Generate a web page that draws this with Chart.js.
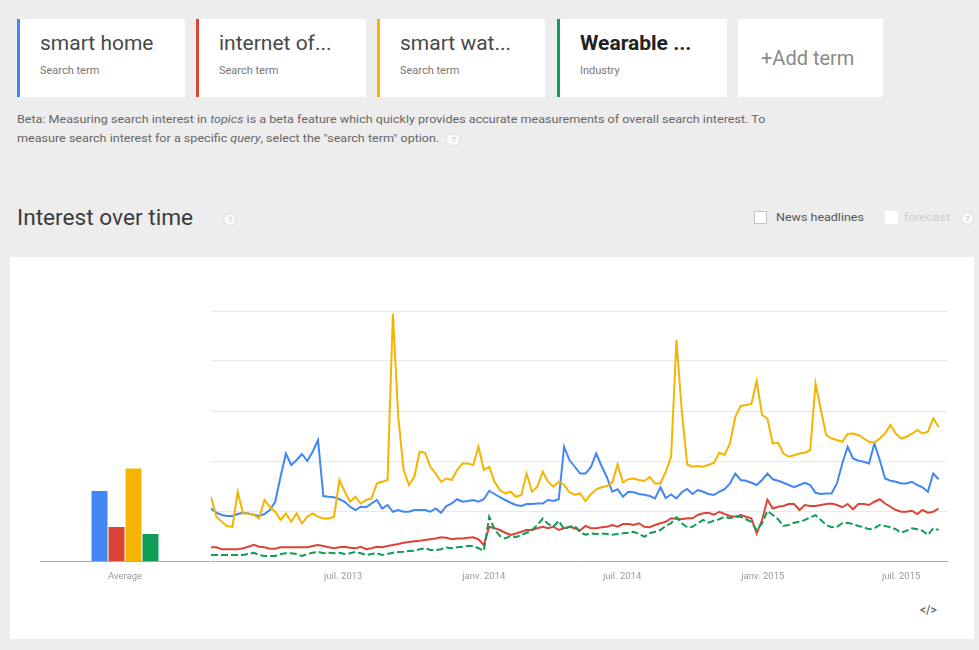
<!DOCTYPE html>
<html lang="fr">
<head>
  <meta charset="UTF-8">
  <title>Interest over time</title>
  <script src="https://cdn.jsdelivr.net/npm/chart.js"></script>
  <style>
    body {
      margin: 0;
      width: 979px;
      height: 650px;
      overflow: hidden;
      background-color: #ededed;
      font-family: Roboto, Arial, sans-serif;
      position: relative;
    }
    .card {
      position: absolute;
      top: 19px;
      height: 78px;
      background: #fff;
      box-sizing: border-box;
      border-left: 3px solid transparent;
    }
    .card .name {
      position: absolute;
      left: 20px;
      top: 12px;
      font-size: 21px;
      line-height: 24px;
      color: #484848;
      white-space: nowrap;
    }
    .card .kind {
      position: absolute;
      left: 20px;
      top: 45px;
      font-size: 11px;
      color: #777;
    }
    .beta {
      position: absolute;
      left: 17px;
      top: 110px;
      font-size: 10.4px;
      line-height: 19px;
      color: #666;
      white-space: nowrap;
      transform: scaleX(1.21);
      transform-origin: left top;
    }
    .help {
      display: inline-block;
      width: 11px;
      height: 11px;
      border-radius: 50%;
      border: 1px solid #ddd;
      background: #fafafa;
      color: #bbb;
      font-size: 8px;
      line-height: 11px;
      text-align: center;
      vertical-align: middle;
    }
    .title {
      position: absolute;
      left: 17px;
      top: 205px;
      font-size: 22px;
      color: #3c3c3c;
      white-space: nowrap;
      transform: scaleX(1.03);
      transform-origin: left top;
    }
    .check {
      position: absolute;
      top: 211px;
      width: 13px;
      height: 13px;
      background: #fff;
      box-sizing: border-box;
    }
    .opt {
      position: absolute;
      top: 210px;
      font-size: 10px;
      line-height: 16px;
      white-space: nowrap;
      transform: scaleX(1.25);
      transform-origin: left top;
    }
    .panel {
      position: absolute;
      left: 10px;
      top: 257px;
      width: 964px;
      height: 382px;
      background: #fff;
    }
    canvas { position: absolute; }
  </style>
</head>
<body>
  <div class="card" style="left:17px;width:168px;border-left-color:#4285f4">
    <div class="name">smart home</div><div class="kind">Search term</div>
  </div>
  <div class="card" style="left:196px;width:170px;border-left-color:#db4437">
    <div class="name">internet of...</div><div class="kind">Search term</div>
  </div>
  <div class="card" style="left:377px;width:168px;border-left-color:#f4b400">
    <div class="name">smart wat...</div><div class="kind">Search term</div>
  </div>
  <div class="card" style="left:557px;width:170px;border-left-color:#0f9d58">
    <div class="name" style="font-weight:bold;color:#222">Wearable ...</div><div class="kind">Industry</div>
  </div>
  <div class="card" style="left:738px;width:145px;border-left:none">
    <div class="name" style="left:23px;top:27px;font-size:20px;color:#8a8a8a">+Add term</div>
  </div>

  <div class="beta">
    Beta: Measuring search interest in <i>topics</i> is a beta feature which quickly provides accurate measurements of overall search interest. To<br>
    measure search interest for a specific <i>query</i>, select the "search term" option. &nbsp;<span class="help">?</span>
  </div>

  <div class="title">Interest over time <span class="help" style="margin-left:24px">?</span></div>
  <div class="check" style="left:754px;border:1px solid #c4c4c4"></div>
  <div class="opt" style="left:776px;color:#555">News headlines</div>
  <div class="check" style="left:885px"></div>
  <div class="opt" style="left:904px;color:#ccc">forecast</div>
  <div class="opt" style="left:961px;transform:none"><span class="help">?</span></div>

  <div class="panel"></div>
  <canvas id="avgChart" width="170" height="286" style="left:40px;top:300px"></canvas>
  <canvas id="trendChart" width="760" height="286" style="left:200px;top:300px"></canvas>
  <div style="position:absolute;left:920px;top:603px;font-size:12px;font-weight:bold;color:#777">&lt;/&gt;</div>

  <script>
    // weekly Google Trends data, first week starting 6 Jan 2013
    const firstWeek = '2013-01-06';
    const seriesNames = ['smart home', 'internet of things', 'smart watch', 'Wearable technology'];
    const seriesColors = ['#4285f4', '#db4437', '#f4b400', '#0f9d58'];
    const averages = [28, 13.6, 37, 10.8];

    const smartHome = [
      21, 19.3, 18.4, 18, 18, 18.8, 19.3, 19, 18.5, 18, 18.8, 20.4, 23.7, 33.7, 43, 38.4, 40.4, 42.8, 40, 43.7,
      48.4, 26, 25.7, 25.5, 24.7, 23.7, 21.7, 20.4, 21.7, 21.5, 23, 24.4, 21, 22.4, 19.7, 20.4, 19.7, 19.7, 20.4, 20.4,
      20.4, 19.7, 21, 19.3, 22, 23, 24.7, 23.7, 24, 24.4, 23.7, 24.7, 28.1, 26.8, 25.5, 24.4, 23.3, 22.4, 22, 22.8,
      22.8, 23, 23, 24.4, 24, 24.7, 45.7, 40.4, 37.7, 35, 35, 37.5, 43, 38, 33.5, 27.7, 28.7, 25.7, 27.7, 27.5,
      26.8, 26.5, 26, 25, 29.5, 25.2, 26.6, 25, 27.5, 28.8, 26.8, 28.4, 27.7, 26.8, 26.4, 27.7, 28.7, 31, 35, 32.4,
      32.1, 31.3, 30.4, 32.4, 35, 32.7, 32.1, 31.3, 30.4, 29.5, 30.4, 31.3, 30.4, 27.3, 26.8, 27, 27, 31, 39, 45.7,
      41, 40.1, 39.7, 39, 47, 40.4, 33, 32.1, 31.7, 31, 31, 31.7, 30.4, 29.5, 27.7, 35, 32.7
    ];
    const internetOfThings = [
      5.5, 5.5, 4.7, 4.7, 4.7, 4.7, 5.1, 5.7, 6.5, 5.7, 5.5, 4.9, 4.9, 5.5, 5.5, 5.5, 5.5, 5.5, 5.5, 6,
      6.4, 6, 5.5, 5.1, 5.5, 5.7, 5.3, 5.1, 5.7, 4.7, 5.1, 5.7, 5.5, 6, 6.4, 6.8, 7.3, 7.6, 7.9, 8.1,
      8.4, 8.7, 9, 9.5, 9.3, 8.7, 9, 9, 9.3, 9.5, 8.7, 6.4, 13.7, 13.1, 12.4, 11.3, 10.4, 11, 11.7, 12.4,
      12.4, 13.1, 13.7, 13.1, 13.7, 12.4, 13.1, 13.7, 13.1, 12.3, 14, 13.1, 13.1, 13.5, 13.7, 14.4, 13.7, 14.8, 14.8, 14.4,
      15.1, 13.7, 13.5, 14.4, 15.1, 15.7, 17.1, 16.9, 16.7, 17.1, 17.1, 18.4, 19.1, 19.3, 18.5, 19.7, 18.8, 18, 17.7, 18.4,
      17.7, 17.1, 11, 16.4, 24.5, 21, 21.7, 22, 22.8, 22.8, 20.4, 22.4, 22, 22, 22.4, 22.8, 23, 22.4, 21.5, 22.8,
      20.7, 22.8, 22.8, 22.4, 23.7, 24.7, 23, 21.7, 20.4, 19.7, 19.7, 20.1, 18.8, 20.4, 19.3, 19.7, 21
    ];
    const smartWatch = [
      25.7, 17.7, 15.7, 14, 13.7, 27.7, 19, 19, 18.4, 17, 24.4, 21.7, 19.7, 16.4, 19, 15.7, 19, 15, 17.7, 19,
      17.7, 17, 17, 17.7, 32.4, 27.7, 23.7, 25.7, 23, 24.4, 25, 31, 31.7, 32.4, 99, 57.7, 36.4, 30.4, 33.7, 43.7,
      43.3, 37.7, 35, 31.7, 33, 32.4, 36.4, 39, 39, 38.4, 45.7, 36.4, 37.7, 31.7, 28.4, 27, 27.7, 25.7, 26.4, 35,
      27.7, 29.7, 35.7, 31.7, 29.7, 31.7, 30.4, 27.5, 26.5, 27, 24, 26.7, 28.7, 29.5, 30, 31.4, 38.7, 31.4, 32.7, 33,
      32.4, 32, 33.6, 31, 31, 35.7, 41.7, 88.4, 60, 38.7, 37.7, 38, 37.7, 38.4, 39.3, 43.3, 42.4, 47, 57.7, 62,
      62.4, 62.8, 72, 58.4, 57, 47, 47.3, 43, 41.7, 42.3, 43, 43.3, 44.4, 71, 60.4, 50.4, 49, 48.4, 47.7, 50.8,
      51, 50.4, 49, 47.7, 47.3, 49, 51, 54.4, 51, 49, 49.7, 50.8, 52.4, 51, 51.7, 57, 53.7
    ];
    const wearableTech = [
      2.4, 2.4, 2.4, 2.4, 2.4, 2.4, 2.4, 2.8, 3.3, 2.4, 2, 2, 2, 2.8, 3.1, 3.1, 2.8, 2, 2.8, 3.3,
      3.7, 3.1, 3.3, 3.1, 3.3, 2.8, 3.1, 3.6, 3.1, 2.4, 2.8, 3.1, 2.4, 2.8, 3.3, 3.6, 3.7, 4, 4.1, 4.7,
      5.1, 4.4, 4.4, 4.7, 5.4, 5.1, 5.5, 5.7, 6, 6, 5.1, 4.1, 17.7, 12.7, 10, 9, 10, 9.5, 10.4, 11.3,
      12.4, 14.4, 17, 14.8, 13.7, 16.1, 12.7, 13.7, 14, 11.5, 10.5, 11, 10.8, 11, 10.8, 10.5, 10.8, 11.1, 11.3, 11.7,
      10.8, 9.7, 11.1, 11.7, 12.4, 14, 15.1, 17.5, 15.1, 13.5, 13.7, 15.1, 16.4, 15.3, 16.1, 16.7, 17.7, 17.1, 17.7, 17.7,
      16.7, 15.7, 12.4, 15, 20, 18.4, 16.7, 14, 14.4, 15.3, 15.7, 16.4, 17.5, 18.3, 16.4, 14.4, 13.5, 13.7, 15.1, 15.3,
      14.8, 14, 13.5, 12.7, 13.1, 14.4, 14, 13.5, 12.7, 11.3, 12.1, 13.1, 12.7, 12.1, 10.4, 13.1, 12.4
    ];
    const seriesValues = [smartHome, internetOfThings, smartWatch, wearableTech];

    const tickDates = ['2013-07-01', '2014-01-01', '2014-07-01', '2015-01-01', '2015-07-01'];
    const tickLabels = ['juil. 2013', 'janv. 2014', 'juil. 2014', 'janv. 2015', 'juil. 2015'];

    const DAY = 86400000;
    const start = Date.parse(firstWeek + 'T00:00:00Z');
    const dayOf = s => Math.round((Date.parse(s + 'T00:00:00Z') - start) / DAY);
    // weeks are plotted at mid-week
    const weekX = smartHome.map((v, i) => i * 7 + 3);
    const tickX = tickDates.map(dayOf);

    const axisFont = { family: 'Roboto, Arial, sans-serif', size: 9.5 };
    const fixHeight = s => { s.height = 25; };

    // Average bars
    new Chart(document.getElementById('avgChart'), {
      type: 'bar',
      data: {
        labels: ['Average'],
        datasets: seriesNames.map((name, k) => ({
          label: name,
          data: [averages[k]],
          backgroundColor: seriesColors[k],
          categoryPercentage: 0.4,
          barPercentage: 0.94
        }))
      },
      options: {
        responsive: false,
        animation: false,
        layout: { padding: { top: 11, left: 0, right: 0, bottom: 0 } },
        plugins: { legend: { display: false }, tooltip: { enabled: false } },
        scales: {
          x: {
            grid: { display: false, drawTicks: false },
            border: { display: true, color: '#aaa' },
            ticks: { color: '#999', font: axisFont, padding: 10 },
            afterFit: fixHeight
          },
          y: { display: false, min: 0, max: 100 }
        }
      }
    });

    // Weekly lines
    new Chart(document.getElementById('trendChart'), {
      type: 'line',
      data: {
        datasets: seriesNames.map((name, k) => ({
          label: name,
          data: seriesValues[k].map((v, i) => ({ x: weekX[i], y: v })),
          borderColor: seriesColors[k],
          borderWidth: 2,
          borderDash: k === 3 ? [7, 3] : [],
          pointRadius: 0,
          tension: 0,
          fill: false
        })).reverse()
      },
      options: {
        responsive: false,
        animation: false,
        layout: { padding: { top: 11, left: 11, right: 13, bottom: 0 } },
        plugins: { legend: { display: false }, tooltip: { enabled: false } },
        scales: {
          x: {
            type: 'linear',
            min: 3,
            max: 966,
            grid: { display: false, drawTicks: false },
            border: { display: true, color: '#aaa' },
            afterBuildTicks: s => { s.ticks = tickX.map(v => ({ value: v })); },
            ticks: {
              color: '#999',
              font: axisFont,
              padding: 10,
              autoSkip: false,
              maxRotation: 0,
              callback: v => tickLabels[tickX.indexOf(v)]
            },
            afterFit: fixHeight
          },
          y: {
            min: 0,
            max: 100,
            ticks: { display: false, stepSize: 20 },
            grid: { color: '#e9e9e9', drawTicks: false },
            border: { display: false },
            afterFit: s => { s.width = 0; }
          }
        }
      }
    });
  </script>
</body>
</html>
